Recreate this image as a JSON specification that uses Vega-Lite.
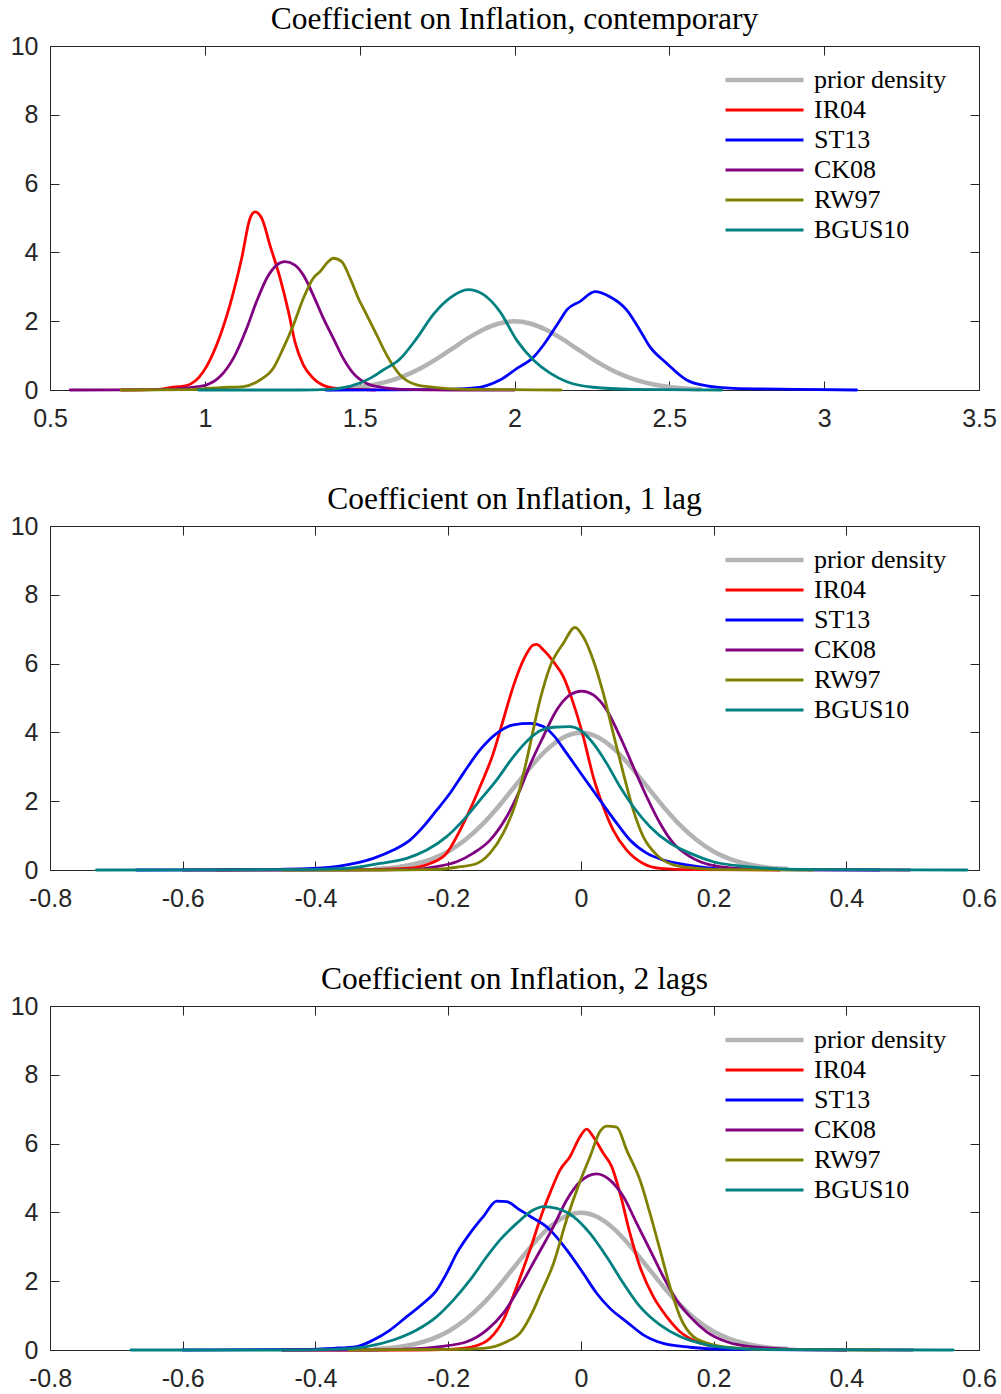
{
  "$schema": "https://vega.github.io/schema/vega-lite/v6.json",
  "background": "white",
  "padding": {"left": 10, "top": 3, "right": 5, "bottom": 5},
  "spacing": 136,
  "bounds": "flush",
  "config": {
    "view": {"stroke": null},
    "axis": {"grid": false, "title": null, "labelFont": "Liberation Sans", "labelFontSize": 25, "labelColor": "#262626", "domainColor": "#262626", "tickColor": "#262626", "domainWidth": 1, "tickWidth": 1, "tickSize": -9, "labelFlush": false, "labelOverlap": false, "labelBound": false},
    "title": {"font": "Liberation Serif", "fontSize": 31.5, "fontWeight": "normal", "color": "#000000", "anchor": "middle", "offset": -1},
    "legend": {"labelFont": "Liberation Serif", "labelFontSize": 26, "labelColor": "#000000", "title": null, "orient": "none", "legendX": 673, "legendY": 19, "symbolType": "stroke", "symbolSize": 6084, "clipHeight": 30, "rowPadding": 0, "padding": 0, "labelOffset": 8, "symbolStrokeWidth": 2.8},
    "line": {"interpolate": "monotone", "strokeJoin": "round", "strokeCap": "round"}
  },
  "resolve": {"scale": {"color": "independent", "strokeWidth": "independent", "x": "independent", "y": "independent"}, "legend": {"color": "independent", "strokeWidth": "independent"}},
  "datasets": {
    "p1": [
      {"m":"prior density","x":1.40,"y":0.022},{"m":"prior density","x":1.45,"y":0.045},{"m":"prior density","x":1.50,"y":0.088},{"m":"prior density","x":1.55,"y":0.159},{"m":"prior density","x":1.60,"y":0.270},{"m":"prior density","x":1.65,"y":0.432},{"m":"prior density","x":1.70,"y":0.648},{"m":"prior density","x":1.75,"y":0.913},{"m":"prior density","x":1.80,"y":1.210},{"m":"prior density","x":1.85,"y":1.506},{"m":"prior density","x":1.90,"y":1.761},{"m":"prior density","x":1.95,"y":1.934},{"m":"prior density","x":2.00,"y":1.995},{"m":"prior density","x":2.05,"y":1.934},{"m":"prior density","x":2.10,"y":1.761},{"m":"prior density","x":2.15,"y":1.506},{"m":"prior density","x":2.20,"y":1.210},{"m":"prior density","x":2.25,"y":0.913},{"m":"prior density","x":2.30,"y":0.648},{"m":"prior density","x":2.35,"y":0.432},{"m":"prior density","x":2.40,"y":0.270},{"m":"prior density","x":2.45,"y":0.159},{"m":"prior density","x":2.50,"y":0.088},{"m":"prior density","x":2.55,"y":0.045},{"m":"prior density","x":2.60,"y":0.022},
      {"m":"IR04","x":0.73,"y":0},{"m":"IR04","x":0.85,"y":0.02},{"m":"IR04","x":0.8875,"y":0.07},{"m":"IR04","x":0.941,"y":0.13},{"m":"IR04","x":0.995,"y":0.53},{"m":"IR04","x":1.038,"y":1.31},{"m":"IR04","x":1.081,"y":2.47},{"m":"IR04","x":1.119,"y":3.83},{"m":"IR04","x":1.146,"y":4.99},{"m":"IR04","x":1.162,"y":5.18},{"m":"IR04","x":1.184,"y":4.99},{"m":"IR04","x":1.210,"y":4.22},{"m":"IR04","x":1.243,"y":3.25},{"m":"IR04","x":1.270,"y":2.28},{"m":"IR04","x":1.291,"y":1.40},{"m":"IR04","x":1.318,"y":0.73},{"m":"IR04","x":1.350,"y":0.34},{"m":"IR04","x":1.394,"y":0.10},{"m":"IR04","x":1.446,"y":0.03},{"m":"IR04","x":1.55,"y":0},
      {"m":"ST13","x":1.39,"y":0},{"m":"ST13","x":1.738,"y":0.01},{"m":"ST13","x":1.871,"y":0.06},{"m":"ST13","x":1.953,"y":0.29},{"m":"ST13","x":2.007,"y":0.62},{"m":"ST13","x":2.061,"y":0.95},{"m":"ST13","x":2.093,"y":1.30},{"m":"ST13","x":2.147,"y":2.03},{"m":"ST13","x":2.169,"y":2.33},{"m":"ST13","x":2.211,"y":2.57},{"m":"ST13","x":2.260,"y":2.86},{"m":"ST13","x":2.308,"y":2.71},{"m":"ST13","x":2.362,"y":2.33},{"m":"ST13","x":2.405,"y":1.74},{"m":"ST13","x":2.437,"y":1.26},{"m":"ST13","x":2.491,"y":0.78},{"m":"ST13","x":2.556,"y":0.29},{"m":"ST13","x":2.621,"y":0.12},{"m":"ST13","x":2.707,"y":0.05},{"m":"ST13","x":2.922,"y":0.02},{"m":"ST13","x":3.105,"y":0},
      {"m":"CK08","x":0.565,"y":0},{"m":"CK08","x":0.85,"y":0.01},{"m":"CK08","x":0.952,"y":0.07},{"m":"CK08","x":1.006,"y":0.15},{"m":"CK08","x":1.049,"y":0.39},{"m":"CK08","x":1.092,"y":0.92},{"m":"CK08","x":1.135,"y":1.79},{"m":"CK08","x":1.167,"y":2.57},{"m":"CK08","x":1.200,"y":3.25},{"m":"CK08","x":1.232,"y":3.63},{"m":"CK08","x":1.259,"y":3.73},{"m":"CK08","x":1.291,"y":3.63},{"m":"CK08","x":1.318,"y":3.34},{"m":"CK08","x":1.350,"y":2.76},{"m":"CK08","x":1.383,"y":2.08},{"m":"CK08","x":1.415,"y":1.50},{"m":"CK08","x":1.447,"y":0.92},{"m":"CK08","x":1.479,"y":0.49},{"m":"CK08","x":1.523,"y":0.19},{"m":"CK08","x":1.576,"y":0.07},{"m":"CK08","x":1.641,"y":0.02},{"m":"CK08","x":1.8,"y":0},{"m":"CK08","x":2.0,"y":0},
      {"m":"RW97","x":0.73,"y":0},{"m":"RW97","x":0.95,"y":0.01},{"m":"RW97","x":1.049,"y":0.07},{"m":"RW97","x":1.124,"y":0.10},{"m":"RW97","x":1.178,"y":0.29},{"m":"RW97","x":1.221,"y":0.63},{"m":"RW97","x":1.253,"y":1.21},{"m":"RW97","x":1.286,"y":1.89},{"m":"RW97","x":1.318,"y":2.66},{"m":"RW97","x":1.350,"y":3.25},{"m":"RW97","x":1.372,"y":3.44},{"m":"RW97","x":1.395,"y":3.70},{"m":"RW97","x":1.415,"y":3.83},{"m":"RW97","x":1.442,"y":3.73},{"m":"RW97","x":1.469,"y":3.25},{"m":"RW97","x":1.496,"y":2.66},{"m":"RW97","x":1.523,"y":2.18},{"m":"RW97","x":1.555,"y":1.60},{"m":"RW97","x":1.587,"y":1.02},{"m":"RW97","x":1.630,"y":0.44},{"m":"RW97","x":1.684,"y":0.15},{"m":"RW97","x":1.749,"y":0.07},{"m":"RW97","x":1.85,"y":0.02},{"m":"RW97","x":2.15,"y":0},
      {"m":"BGUS10","x":0.98,"y":0},{"m":"BGUS10","x":1.3,"y":0},{"m":"BGUS10","x":1.404,"y":0.02},{"m":"BGUS10","x":1.471,"y":0.11},{"m":"BGUS10","x":1.538,"y":0.36},{"m":"BGUS10","x":1.576,"y":0.58},{"m":"BGUS10","x":1.630,"y":0.90},{"m":"BGUS10","x":1.684,"y":1.50},{"m":"BGUS10","x":1.738,"y":2.20},{"m":"BGUS10","x":1.792,"y":2.68},{"m":"BGUS10","x":1.850,"y":2.92},{"m":"BGUS10","x":1.899,"y":2.78},{"m":"BGUS10","x":1.953,"y":2.28},{"m":"BGUS10","x":2.007,"y":1.45},{"m":"BGUS10","x":2.061,"y":0.87},{"m":"BGUS10","x":2.115,"y":0.49},{"m":"BGUS10","x":2.169,"y":0.24},{"m":"BGUS10","x":2.254,"y":0.08},{"m":"BGUS10","x":2.38,"y":0.02},{"m":"BGUS10","x":2.67,"y":0}
    ],
    "p2": [
      {"m":"prior density","x":-0.31,"y":0.033},{"m":"prior density","x":-0.3,"y":0.044},{"m":"prior density","x":-0.275,"y":0.091},{"m":"prior density","x":-0.25,"y":0.175},{"m":"prior density","x":-0.225,"y":0.317},{"m":"prior density","x":-0.2,"y":0.540},{"m":"prior density","x":-0.175,"y":0.863},{"m":"prior density","x":-0.15,"y":1.295},{"m":"prior density","x":-0.125,"y":1.826},{"m":"prior density","x":-0.1,"y":2.420},{"m":"prior density","x":-0.075,"y":3.011},{"m":"prior density","x":-0.05,"y":3.521},{"m":"prior density","x":-0.025,"y":3.867},{"m":"prior density","x":0,"y":3.989},{"m":"prior density","x":0.025,"y":3.867},{"m":"prior density","x":0.05,"y":3.521},{"m":"prior density","x":0.075,"y":3.011},{"m":"prior density","x":0.1,"y":2.420},{"m":"prior density","x":0.125,"y":1.826},{"m":"prior density","x":0.15,"y":1.295},{"m":"prior density","x":0.175,"y":0.863},{"m":"prior density","x":0.2,"y":0.540},{"m":"prior density","x":0.225,"y":0.317},{"m":"prior density","x":0.25,"y":0.175},{"m":"prior density","x":0.275,"y":0.091},{"m":"prior density","x":0.3,"y":0.044},{"m":"prior density","x":0.31,"y":0.033},
      {"m":"IR04","x":-0.55,"y":0},{"m":"IR04","x":-0.35,"y":0.01},{"m":"IR04","x":-0.2625,"y":0.05},{"m":"IR04","x":-0.2273,"y":0.19},{"m":"IR04","x":-0.2022,"y":0.49},{"m":"IR04","x":-0.1871,"y":0.97},{"m":"IR04","x":-0.172,"y":1.55},{"m":"IR04","x":-0.152,"y":2.42},{"m":"IR04","x":-0.132,"y":3.39},{"m":"IR04","x":-0.117,"y":4.36},{"m":"IR04","x":-0.102,"y":5.33},{"m":"IR04","x":-0.0867,"y":6.10},{"m":"IR04","x":-0.0717,"y":6.54},{"m":"IR04","x":-0.0666,"y":6.56},{"m":"IR04","x":-0.0566,"y":6.40},{"m":"IR04","x":-0.0415,"y":6.06},{"m":"IR04","x":-0.0264,"y":5.62},{"m":"IR04","x":-0.0114,"y":4.85},{"m":"IR04","x":0.0036,"y":3.88},{"m":"IR04","x":0.0187,"y":2.71},{"m":"IR04","x":0.0338,"y":1.84},{"m":"IR04","x":0.0488,"y":1.16},{"m":"IR04","x":0.069,"y":0.58},{"m":"IR04","x":0.094,"y":0.19},{"m":"IR04","x":0.119,"y":0.05},{"m":"IR04","x":0.17,"y":0.01},{"m":"IR04","x":0.3,"y":0},
      {"m":"ST13","x":-0.67,"y":0},{"m":"ST13","x":-0.5,"y":0.01},{"m":"ST13","x":-0.4032,"y":0.05},{"m":"ST13","x":-0.3529,"y":0.15},{"m":"ST13","x":-0.3128,"y":0.34},{"m":"ST13","x":-0.2826,"y":0.58},{"m":"ST13","x":-0.2575,"y":0.87},{"m":"ST13","x":-0.2374,"y":1.26},{"m":"ST13","x":-0.2172,"y":1.74},{"m":"ST13","x":-0.1972,"y":2.23},{"m":"ST13","x":-0.1771,"y":2.81},{"m":"ST13","x":-0.152,"y":3.49},{"m":"ST13","x":-0.1268,"y":3.97},{"m":"ST13","x":-0.1018,"y":4.22},{"m":"ST13","x":-0.0767,"y":4.26},{"m":"ST13","x":-0.0566,"y":4.17},{"m":"ST13","x":-0.0415,"y":3.92},{"m":"ST13","x":-0.0213,"y":3.39},{"m":"ST13","x":0.0036,"y":2.71},{"m":"ST13","x":0.0288,"y":2.03},{"m":"ST13","x":0.054,"y":1.36},{"m":"ST13","x":0.074,"y":0.87},{"m":"ST13","x":0.0992,"y":0.49},{"m":"ST13","x":0.1243,"y":0.29},{"m":"ST13","x":0.1595,"y":0.15},{"m":"ST13","x":0.1996,"y":0.05},{"m":"ST13","x":0.28,"y":0.01},{"m":"ST13","x":0.45,"y":0},
      {"m":"CK08","x":-0.6,"y":0},{"m":"CK08","x":-0.35,"y":0},{"m":"CK08","x":-0.2525,"y":0.02},{"m":"CK08","x":-0.2172,"y":0.10},{"m":"CK08","x":-0.1871,"y":0.24},{"m":"CK08","x":-0.162,"y":0.49},{"m":"CK08","x":-0.1369,"y":0.87},{"m":"CK08","x":-0.1118,"y":1.55},{"m":"CK08","x":-0.0917,"y":2.33},{"m":"CK08","x":-0.0767,"y":3.05},{"m":"CK08","x":-0.0566,"y":3.88},{"m":"CK08","x":-0.0364,"y":4.65},{"m":"CK08","x":-0.0164,"y":5.09},{"m":"CK08","x":0.0012,"y":5.20},{"m":"CK08","x":0.0187,"y":5.09},{"m":"CK08","x":0.0389,"y":4.65},{"m":"CK08","x":0.059,"y":3.88},{"m":"CK08","x":0.079,"y":3.00},{"m":"CK08","x":0.0992,"y":2.13},{"m":"CK08","x":0.1193,"y":1.36},{"m":"CK08","x":0.1393,"y":0.78},{"m":"CK08","x":0.1645,"y":0.39},{"m":"CK08","x":0.1946,"y":0.15},{"m":"CK08","x":0.2348,"y":0.05},{"m":"CK08","x":0.3,"y":0.01},{"m":"CK08","x":0.496,"y":0},
      {"m":"RW97","x":-0.45,"y":0},{"m":"RW97","x":-0.3,"y":0},{"m":"RW97","x":-0.2172,"y":0.02},{"m":"RW97","x":-0.1871,"y":0.08},{"m":"RW97","x":-0.157,"y":0.19},{"m":"RW97","x":-0.1369,"y":0.49},{"m":"RW97","x":-0.1169,"y":1.07},{"m":"RW97","x":-0.0967,"y":2.03},{"m":"RW97","x":-0.0816,"y":3.20},{"m":"RW97","x":-0.0616,"y":4.94},{"m":"RW97","x":-0.0465,"y":5.91},{"m":"RW97","x":-0.0264,"y":6.59},{"m":"RW97","x":-0.0088,"y":7.05},{"m":"RW97","x":0.0036,"y":6.78},{"m":"RW97","x":0.0187,"y":6.10},{"m":"RW97","x":0.0338,"y":5.14},{"m":"RW97","x":0.0488,"y":3.97},{"m":"RW97","x":0.064,"y":2.81},{"m":"RW97","x":0.079,"y":1.74},{"m":"RW97","x":0.094,"y":0.97},{"m":"RW97","x":0.1143,"y":0.44},{"m":"RW97","x":0.1393,"y":0.15},{"m":"RW97","x":0.1746,"y":0.05},{"m":"RW97","x":0.22,"y":0.01},{"m":"RW97","x":0.35,"y":0},
      {"m":"BGUS10","x":-0.73,"y":0},{"m":"BGUS10","x":-0.45,"y":0.01},{"m":"BGUS10","x":-0.3529,"y":0.05},{"m":"BGUS10","x":-0.3027,"y":0.19},{"m":"BGUS10","x":-0.2625,"y":0.34},{"m":"BGUS10","x":-0.2323,"y":0.58},{"m":"BGUS10","x":-0.2022,"y":0.97},{"m":"BGUS10","x":-0.1771,"y":1.45},{"m":"BGUS10","x":-0.152,"y":2.03},{"m":"BGUS10","x":-0.1268,"y":2.62},{"m":"BGUS10","x":-0.1018,"y":3.29},{"m":"BGUS10","x":-0.0767,"y":3.83},{"m":"BGUS10","x":-0.0616,"y":4.05},{"m":"BGUS10","x":-0.0415,"y":4.15},{"m":"BGUS10","x":-0.0164,"y":4.17},{"m":"BGUS10","x":-0.0013,"y":4.07},{"m":"BGUS10","x":0.0187,"y":3.68},{"m":"BGUS10","x":0.0389,"y":3.10},{"m":"BGUS10","x":0.059,"y":2.42},{"m":"BGUS10","x":0.079,"y":1.84},{"m":"BGUS10","x":0.1042,"y":1.26},{"m":"BGUS10","x":0.1343,"y":0.78},{"m":"BGUS10","x":0.1645,"y":0.49},{"m":"BGUS10","x":0.1996,"y":0.24},{"m":"BGUS10","x":0.2499,"y":0.10},{"m":"BGUS10","x":0.3253,"y":0.02},{"m":"BGUS10","x":0.582,"y":0}
    ],
    "p3": [
      {"m":"prior density","x":-0.31,"y":0.033},{"m":"prior density","x":-0.3,"y":0.044},{"m":"prior density","x":-0.275,"y":0.091},{"m":"prior density","x":-0.25,"y":0.175},{"m":"prior density","x":-0.225,"y":0.317},{"m":"prior density","x":-0.2,"y":0.540},{"m":"prior density","x":-0.175,"y":0.863},{"m":"prior density","x":-0.15,"y":1.295},{"m":"prior density","x":-0.125,"y":1.826},{"m":"prior density","x":-0.1,"y":2.420},{"m":"prior density","x":-0.075,"y":3.011},{"m":"prior density","x":-0.05,"y":3.521},{"m":"prior density","x":-0.025,"y":3.867},{"m":"prior density","x":0,"y":3.989},{"m":"prior density","x":0.025,"y":3.867},{"m":"prior density","x":0.05,"y":3.521},{"m":"prior density","x":0.075,"y":3.011},{"m":"prior density","x":0.1,"y":2.420},{"m":"prior density","x":0.125,"y":1.826},{"m":"prior density","x":0.15,"y":1.295},{"m":"prior density","x":0.175,"y":0.863},{"m":"prior density","x":0.2,"y":0.540},{"m":"prior density","x":0.225,"y":0.317},{"m":"prior density","x":0.25,"y":0.175},{"m":"prior density","x":0.275,"y":0.091},{"m":"prior density","x":0.3,"y":0.044},{"m":"prior density","x":0.31,"y":0.033},
      {"m":"IR04","x":-0.45,"y":0},{"m":"IR04","x":-0.25,"y":0},{"m":"IR04","x":-0.1972,"y":0.02},{"m":"IR04","x":-0.162,"y":0.10},{"m":"IR04","x":-0.1369,"y":0.34},{"m":"IR04","x":-0.1169,"y":0.87},{"m":"IR04","x":-0.0967,"y":1.84},{"m":"IR04","x":-0.0767,"y":2.91},{"m":"IR04","x":-0.0566,"y":4.07},{"m":"IR04","x":-0.0465,"y":4.56},{"m":"IR04","x":-0.0315,"y":5.23},{"m":"IR04","x":-0.0164,"y":5.62},{"m":"IR04","x":-0.0013,"y":6.20},{"m":"IR04","x":0.0088,"y":6.42},{"m":"IR04","x":0.0187,"y":6.20},{"m":"IR04","x":0.0338,"y":5.72},{"m":"IR04","x":0.0465,"y":5.33},{"m":"IR04","x":0.059,"y":4.56},{"m":"IR04","x":0.074,"y":3.39},{"m":"IR04","x":0.0891,"y":2.42},{"m":"IR04","x":0.1092,"y":1.55},{"m":"IR04","x":0.1293,"y":0.97},{"m":"IR04","x":0.1494,"y":0.53},{"m":"IR04","x":0.1746,"y":0.24},{"m":"IR04","x":0.2097,"y":0.08},{"m":"IR04","x":0.26,"y":0.02},{"m":"IR04","x":0.4,"y":0},
      {"m":"ST13","x":-0.6,"y":0},{"m":"ST13","x":-0.4232,"y":0.02},{"m":"ST13","x":-0.3731,"y":0.05},{"m":"ST13","x":-0.3378,"y":0.10},{"m":"ST13","x":-0.3128,"y":0.29},{"m":"ST13","x":-0.2876,"y":0.58},{"m":"ST13","x":-0.2625,"y":0.97},{"m":"ST13","x":-0.2374,"y":1.36},{"m":"ST13","x":-0.2172,"y":1.74},{"m":"ST13","x":-0.2022,"y":2.23},{"m":"ST13","x":-0.1871,"y":2.81},{"m":"ST13","x":-0.1671,"y":3.39},{"m":"ST13","x":-0.147,"y":3.88},{"m":"ST13","x":-0.1268,"y":4.33},{"m":"ST13","x":-0.1118,"y":4.31},{"m":"ST13","x":-0.0917,"y":4.07},{"m":"ST13","x":-0.0717,"y":3.83},{"m":"ST13","x":-0.0515,"y":3.58},{"m":"ST13","x":-0.0415,"y":3.39},{"m":"ST13","x":-0.0213,"y":2.91},{"m":"ST13","x":0.0036,"y":2.23},{"m":"ST13","x":0.0238,"y":1.65},{"m":"ST13","x":0.0439,"y":1.21},{"m":"ST13","x":0.069,"y":0.82},{"m":"ST13","x":0.0941,"y":0.44},{"m":"ST13","x":0.1243,"y":0.19},{"m":"ST13","x":0.1645,"y":0.08},{"m":"ST13","x":0.2147,"y":0.02},{"m":"ST13","x":0.4,"y":0},
      {"m":"CK08","x":-0.45,"y":0},{"m":"CK08","x":-0.32,"y":0},{"m":"CK08","x":-0.2726,"y":0.02},{"m":"CK08","x":-0.2123,"y":0.10},{"m":"CK08","x":-0.172,"y":0.24},{"m":"CK08","x":-0.1419,"y":0.58},{"m":"CK08","x":-0.1169,"y":1.07},{"m":"CK08","x":-0.0917,"y":1.84},{"m":"CK08","x":-0.0666,"y":2.71},{"m":"CK08","x":-0.0415,"y":3.58},{"m":"CK08","x":-0.0213,"y":4.36},{"m":"CK08","x":-0.0013,"y":4.89},{"m":"CK08","x":0.0238,"y":5.12},{"m":"CK08","x":0.0439,"y":4.94},{"m":"CK08","x":0.064,"y":4.46},{"m":"CK08","x":0.0842,"y":3.68},{"m":"CK08","x":0.1042,"y":2.91},{"m":"CK08","x":0.1243,"y":2.13},{"m":"CK08","x":0.1444,"y":1.45},{"m":"CK08","x":0.1645,"y":0.97},{"m":"CK08","x":0.1896,"y":0.53},{"m":"CK08","x":0.2198,"y":0.24},{"m":"CK08","x":0.265,"y":0.08},{"m":"CK08","x":0.33,"y":0.02},{"m":"CK08","x":0.5,"y":0},
      {"m":"RW97","x":-0.35,"y":0},{"m":"RW97","x":-0.1972,"y":0.02},{"m":"RW97","x":-0.147,"y":0.05},{"m":"RW97","x":-0.1118,"y":0.24},{"m":"RW97","x":-0.0917,"y":0.49},{"m":"RW97","x":-0.0717,"y":1.15},{"m":"RW97","x":-0.0616,"y":1.6},{"m":"RW97","x":-0.0415,"y":2.5},{"m":"RW97","x":-0.0213,"y":3.8},{"m":"RW97","x":-0.0013,"y":4.9},{"m":"RW97","x":0.0138,"y":5.62},{"m":"RW97","x":0.0288,"y":6.35},{"m":"RW97","x":0.0389,"y":6.51},{"m":"RW97","x":0.054,"y":6.48},{"m":"RW97","x":0.069,"y":5.81},{"m":"RW97","x":0.0891,"y":4.94},{"m":"RW97","x":0.1042,"y":3.97},{"m":"RW97","x":0.1193,"y":2.91},{"m":"RW97","x":0.1343,"y":1.84},{"m":"RW97","x":0.1494,"y":0.97},{"m":"RW97","x":0.1695,"y":0.39},{"m":"RW97","x":0.1996,"y":0.15},{"m":"RW97","x":0.2398,"y":0.05},{"m":"RW97","x":0.3,"y":0.01},{"m":"RW97","x":0.45,"y":0},
      {"m":"BGUS10","x":-0.678,"y":0},{"m":"BGUS10","x":-0.45,"y":0},{"m":"BGUS10","x":-0.3731,"y":0.02},{"m":"BGUS10","x":-0.3227,"y":0.10},{"m":"BGUS10","x":-0.2826,"y":0.29},{"m":"BGUS10","x":-0.2474,"y":0.58},{"m":"BGUS10","x":-0.2172,"y":0.97},{"m":"BGUS10","x":-0.1922,"y":1.45},{"m":"BGUS10","x":-0.1671,"y":2.03},{"m":"BGUS10","x":-0.1419,"y":2.71},{"m":"BGUS10","x":-0.1218,"y":3.20},{"m":"BGUS10","x":-0.0967,"y":3.68},{"m":"BGUS10","x":-0.0717,"y":4.07},{"m":"BGUS10","x":-0.0566,"y":4.17},{"m":"BGUS10","x":-0.0364,"y":4.12},{"m":"BGUS10","x":-0.0113,"y":3.88},{"m":"BGUS10","x":0.0138,"y":3.39},{"m":"BGUS10","x":0.0389,"y":2.71},{"m":"BGUS10","x":0.064,"y":1.94},{"m":"BGUS10","x":0.0891,"y":1.26},{"m":"BGUS10","x":0.1193,"y":0.73},{"m":"BGUS10","x":0.1494,"y":0.39},{"m":"BGUS10","x":0.1896,"y":0.15},{"m":"BGUS10","x":0.2398,"y":0.04},{"m":"BGUS10","x":0.3,"y":0.01},{"m":"BGUS10","x":0.561,"y":0}
    ]
  },
  "vconcat": [
    {
      "title": "Coefficient on Inflation, contemporary",
      "width": 929, "height": 344,
      "data": {"name": "p1"},
      "resolve": {"axis": {"x": "independent", "y": "independent"}},
      "layer": [
        {
          "mark": {"type": "line"},
          "encoding": {
            "x": {"field": "x", "type": "quantitative", "scale": {"domain": [0.5, 3.5], "nice": false, "zero": false}, "axis": {"orient": "bottom", "values": [0.5, 1, 1.5, 2, 2.5, 3, 3.5], "labelExpr": "'' + datum.value", "labelPadding": 25}},
            "y": {"field": "y", "type": "quantitative", "scale": {"domain": [0, 10], "nice": false, "zero": false}, "axis": {"orient": "left", "values": [0, 2, 4, 6, 8, 10], "labelExpr": "'' + datum.value", "labelPadding": 21}},
            "color": {"field": "m", "type": "nominal", "scale": {"domain": ["prior density", "IR04", "ST13", "CK08", "RW97", "BGUS10"], "range": ["#b3b3b3", "#ff0000", "#0000ff", "#800080", "#808000", "#008080"]}, "legend": {"encode": {"symbols": {"update": {"strokeWidth": {"signal": "datum.value === 'prior density' ? 4.5 : 2.8"}}}}}},
            "strokeWidth": {"field": "m", "type": "nominal", "scale": {"type": "ordinal", "domain": ["prior density", "IR04", "ST13", "CK08", "RW97", "BGUS10"], "range": [4.5, 2.8, 2.8, 2.8, 2.8, 2.8]}, "legend": null}
          }
        },
        {
          "mark": {"type": "line", "opacity": 0},
          "encoding": {
            "x": {"field": "x", "type": "quantitative", "axis": {"orient": "top", "values": [0.5, 1, 1.5, 2, 2.5, 3, 3.5], "labels": false}},
            "y": {"field": "y", "type": "quantitative", "axis": {"orient": "right", "values": [0, 2, 4, 6, 8, 10], "labels": false}},
            "detail": {"field": "m"}
          }
        }
      ]
    },
    {
      "title": "Coefficient on Inflation, 1 lag",
      "width": 929, "height": 344,
      "data": {"name": "p2"},
      "resolve": {"axis": {"x": "independent", "y": "independent"}},
      "layer": [
        {
          "mark": {"type": "line"},
          "encoding": {
            "x": {"field": "x", "type": "quantitative", "scale": {"domain": [-0.8, 0.6], "nice": false, "zero": false}, "axis": {"orient": "bottom", "values": [-0.8, -0.6, -0.4, -0.2, 0, 0.2, 0.4, 0.6], "labelExpr": "'' + datum.value", "labelPadding": 25}},
            "y": {"field": "y", "type": "quantitative", "scale": {"domain": [0, 10], "nice": false, "zero": false}, "axis": {"orient": "left", "values": [0, 2, 4, 6, 8, 10], "labelExpr": "'' + datum.value", "labelPadding": 21}},
            "color": {"field": "m", "type": "nominal", "scale": {"domain": ["prior density", "IR04", "ST13", "CK08", "RW97", "BGUS10"], "range": ["#b3b3b3", "#ff0000", "#0000ff", "#800080", "#808000", "#008080"]}, "legend": {"encode": {"symbols": {"update": {"strokeWidth": {"signal": "datum.value === 'prior density' ? 4.5 : 2.8"}}}}}},
            "strokeWidth": {"field": "m", "type": "nominal", "scale": {"type": "ordinal", "domain": ["prior density", "IR04", "ST13", "CK08", "RW97", "BGUS10"], "range": [4.5, 2.8, 2.8, 2.8, 2.8, 2.8]}, "legend": null}
          }
        },
        {
          "mark": {"type": "line", "opacity": 0},
          "encoding": {
            "x": {"field": "x", "type": "quantitative", "axis": {"orient": "top", "values": [-0.8, -0.6, -0.4, -0.2, 0, 0.2, 0.4, 0.6], "labels": false}},
            "y": {"field": "y", "type": "quantitative", "axis": {"orient": "right", "values": [0, 2, 4, 6, 8, 10], "labels": false}},
            "detail": {"field": "m"}
          }
        }
      ]
    },
    {
      "title": "Coefficient on Inflation, 2 lags",
      "width": 929, "height": 344,
      "data": {"name": "p3"},
      "resolve": {"axis": {"x": "independent", "y": "independent"}},
      "layer": [
        {
          "mark": {"type": "line"},
          "encoding": {
            "x": {"field": "x", "type": "quantitative", "scale": {"domain": [-0.8, 0.6], "nice": false, "zero": false}, "axis": {"orient": "bottom", "values": [-0.8, -0.6, -0.4, -0.2, 0, 0.2, 0.4, 0.6], "labelExpr": "'' + datum.value", "labelPadding": 25}},
            "y": {"field": "y", "type": "quantitative", "scale": {"domain": [0, 10], "nice": false, "zero": false}, "axis": {"orient": "left", "values": [0, 2, 4, 6, 8, 10], "labelExpr": "'' + datum.value", "labelPadding": 21}},
            "color": {"field": "m", "type": "nominal", "scale": {"domain": ["prior density", "IR04", "ST13", "CK08", "RW97", "BGUS10"], "range": ["#b3b3b3", "#ff0000", "#0000ff", "#800080", "#808000", "#008080"]}, "legend": {"encode": {"symbols": {"update": {"strokeWidth": {"signal": "datum.value === 'prior density' ? 4.5 : 2.8"}}}}}},
            "strokeWidth": {"field": "m", "type": "nominal", "scale": {"type": "ordinal", "domain": ["prior density", "IR04", "ST13", "CK08", "RW97", "BGUS10"], "range": [4.5, 2.8, 2.8, 2.8, 2.8, 2.8]}, "legend": null}
          }
        },
        {
          "mark": {"type": "line", "opacity": 0},
          "encoding": {
            "x": {"field": "x", "type": "quantitative", "axis": {"orient": "top", "values": [-0.8, -0.6, -0.4, -0.2, 0, 0.2, 0.4, 0.6], "labels": false}},
            "y": {"field": "y", "type": "quantitative", "axis": {"orient": "right", "values": [0, 2, 4, 6, 8, 10], "labels": false}},
            "detail": {"field": "m"}
          }
        }
      ]
    }
  ]
}
